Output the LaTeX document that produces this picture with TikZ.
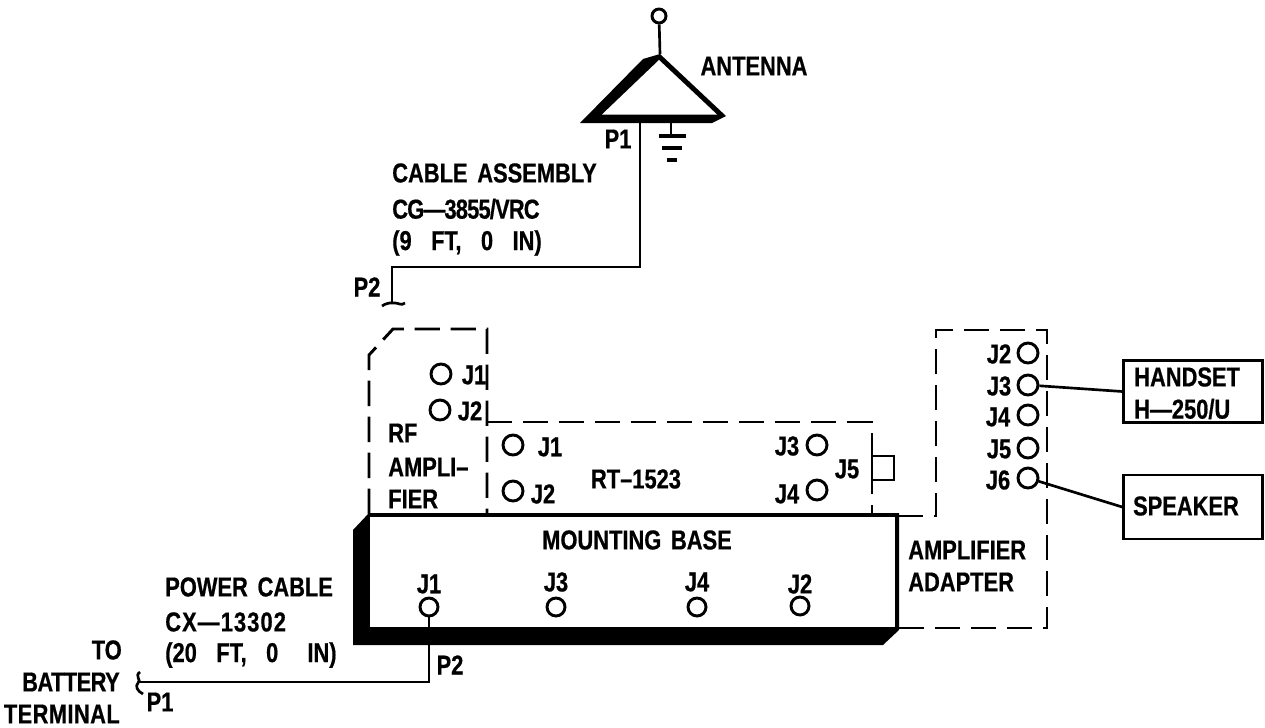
\documentclass[tikz,border=0pt]{standalone}
\usepackage{fontspec}
\setmainfont[FakeStretch=0.8,FakeBold=0.6,WordSpace=1.6]{Liberation Sans Bold}
\newcommand{\lsp}[2]{{\addfontfeature{LetterSpace=#1}#2}}
\begin{document}
\begin{tikzpicture}[x=0.75pt,y=-0.75pt,
  line join=miter,
  ln/.style={line width=2pt,black},
  dsh/.style={line width=2.2pt,black,dash pattern=on 19pt off 8pt},
  lab/.style={font=\fontsize{20.5}{24}\selectfont,inner sep=0pt,text=black},
  labw/.style={lab,anchor=west},
  labe/.style={lab,anchor=east},
  jack/.style={circle,draw=black,line width=2.2pt,inner sep=0pt,fill=white},
  devbox/.style={draw=black,line width=2.2pt,inner sep=0pt}]
\useasboundingbox (0,0) rectangle (1265,728);
% antenna
\node[jack,minimum size=10.5pt] (tip) at (659,16) {};
\coordinate (apex) at (660,54);
\draw[ln] (tip) -- (apex);
\fill[black] (apex) -- (726,116) -- (712,123) -- (580,123) -- (643,59) -- cycle;
\fill[white] (659,60) -- (717,114.5) -- (602,114.5) -- cycle;
\node[lab] (antlab) at (754,66) {ANTENNA};
\coordinate (gtop) at (671,122);
\coordinate (g1) at (671,136);
\draw[ln] (gtop) -- (g1);
\draw[line width=2.4pt] (659,136) -- (686,136) (662,148) -- (682,148) (667,160) -- (677,160);
\node[lab] (p1a) at (618,139) {P1};
% cable assembly
\coordinate (c0) at (640,122);
\coordinate (c1) at (640,267);
\coordinate (c2) at (392,267);
\coordinate (c3) at (392,303);
\draw[ln] (c0) -- (c1) -- (c2) -- (c3);
\draw[ln] (382,306) .. controls (388,302) and (392,303) .. (395,303) .. controls (399,303) and (401,306) .. (405,303);
\node[labw] (ca1) at (392,173) {CABLE ASSEMBLY};
\node[labw] (ca2) at (392,209) {\lsp{-3}{CG—3855/VRC}};
\node[labw] (ca3) at (392,243) {(9\ \ FT,\ \ 0\ \ IN)};
\node[lab] (p2a) at (367,287) {P2};
% dashed housings
\draw[dsh] (369,514) -- (369,355) -- (393,329) -- (487,329) -- (487,514);
\draw[dsh] (487,422) -- (872,422) -- (872,514);
\draw[dsh] (898,516) -- (936,516) -- (936,330) -- (1047,330) -- (1047,628) -- (898,628);
% mounting base
\fill[black] (353,530) -- (369,513) -- (899,513) -- (899,630) -- (883,645) -- (353,645) -- cycle;
\fill[white] (370,517) -- (895,517) -- (895,627) -- (370,627) -- cycle;
\node[lab] (mb) at (637,540) {MOUNTING BASE};
% base jacks
\node[jack,minimum size=13.5pt] (bj1) at (429,607) {};
\node[jack,minimum size=13.5pt] (bj3) at (556,607) {};
\node[jack,minimum size=13.5pt] (bj4) at (697,607) {};
\node[jack,minimum size=13.5pt] (bj2) at (800,606) {};
\node[lab] (lj1) at (429,584) {J1};
\node[lab] (lj3) at (556,582) {J3};
\node[lab] (lj4) at (697,582) {J4};
\node[lab] (lj2) at (800,584) {J2};
% power cable
\coordinate (pc1) at (429,682);
\coordinate (pc2) at (139,682);
\draw[ln] (bj1) -- (429,627);
\draw[ln] (429,643) -- (pc1) -- (pc2);
\draw[ln] (140,672) .. controls (134,676) and (142,680) .. (138,683) .. controls (135,686) and (137,691) .. (143,694);
\node[labw] (pw1) at (165,587) {POWER CABLE};
\node[labw] (pw2) at (165,622) {\lsp{4}{CX—13302}};
\node[labw] (pw3) at (165,655) {(20\ \ FT,\ \ 0\ \ \ IN)};
\node[labe] (t1) at (122,650) {TO};
\node[labe] (t2) at (120,682) {\lsp{-2}{BATTERY}};
\node[labe] (t3) at (120,714) {\lsp{1.5}{TERMINAL}};
\node[lab] (p1b) at (160,702) {P1};
\node[lab] (p2b) at (450,665) {P2};
% RF amplifier
\node[jack,minimum size=15pt] (rj1) at (441,374) {};
\node[jack,minimum size=15pt] (rj2) at (440,410) {};
\node[lab] (lr1) at (474,375) {J1};
\node[lab] (lr2) at (470,411) {J2};
\node[labw] (rf1) at (388,433) {RF};
\node[labw] (rf2) at (388,467) {AMPLI–};
\node[labw] (rf3) at (388,499) {FIER};
% RT-1523
\node[jack,minimum size=15pt] (tj1) at (513,445) {};
\node[jack,minimum size=15pt] (tj2) at (513,491) {};
\node[jack,minimum size=15pt] (tj3) at (817,445) {};
\node[jack,minimum size=15pt] (tj4) at (817,490) {};
\node[lab] (lt1) at (550,447) {J1};
\node[lab] (lt2) at (543,494) {J2};
\node[lab] (lt3) at (787,446) {J3};
\node[lab] (lt4) at (787,494) {J4};
\node[lab] (lt5) at (847,469) {J5};
\node[lab] (rt) at (636,479) {RT–1523};
\node[draw=black,fill=white,line width=2.2pt,minimum width=16.5pt,minimum height=18pt,inner sep=0pt] (j5box) at (883,468) {};
% adapter
\node[jack,minimum size=15pt] (aj2) at (1028,353) {};
\node[jack,minimum size=15pt] (aj3) at (1028,385) {};
\node[jack,minimum size=15pt] (aj4) at (1028,415) {};
\node[jack,minimum size=15pt] (aj5) at (1028,448) {};
\node[jack,minimum size=15pt] (aj6) at (1028,478) {};
\node[lab] (la2) at (999,354) {J2};
\node[lab] (la3) at (999,386) {J3};
\node[lab] (la4) at (998,417) {J4};
\node[lab] (la5) at (999,449) {J5};
\node[lab] (la6) at (998,480) {J6};
\node[labw] (aa1) at (908,550) {AMPLIFIER};
\node[labw] (aa2) at (908,582) {ADAPTER};
% external boxes
\node[devbox,minimum width=104pt,minimum height=47pt] (hs) at (1193,391.5) {};
\node[labw] (hs1) at (1134,377) {HANDSET};
\node[labw] (hs2) at (1134,409) {H—250/U};
\node[devbox,minimum width=104pt,minimum height=48pt] (sp) at (1193,507) {};
\node[lab] (splab) at (1186,506) {SPEAKER};
\draw[ln] (aj3) -- (hs.west);
\draw[ln] (aj6) -- (sp.west);
\end{tikzpicture}
\end{document}
